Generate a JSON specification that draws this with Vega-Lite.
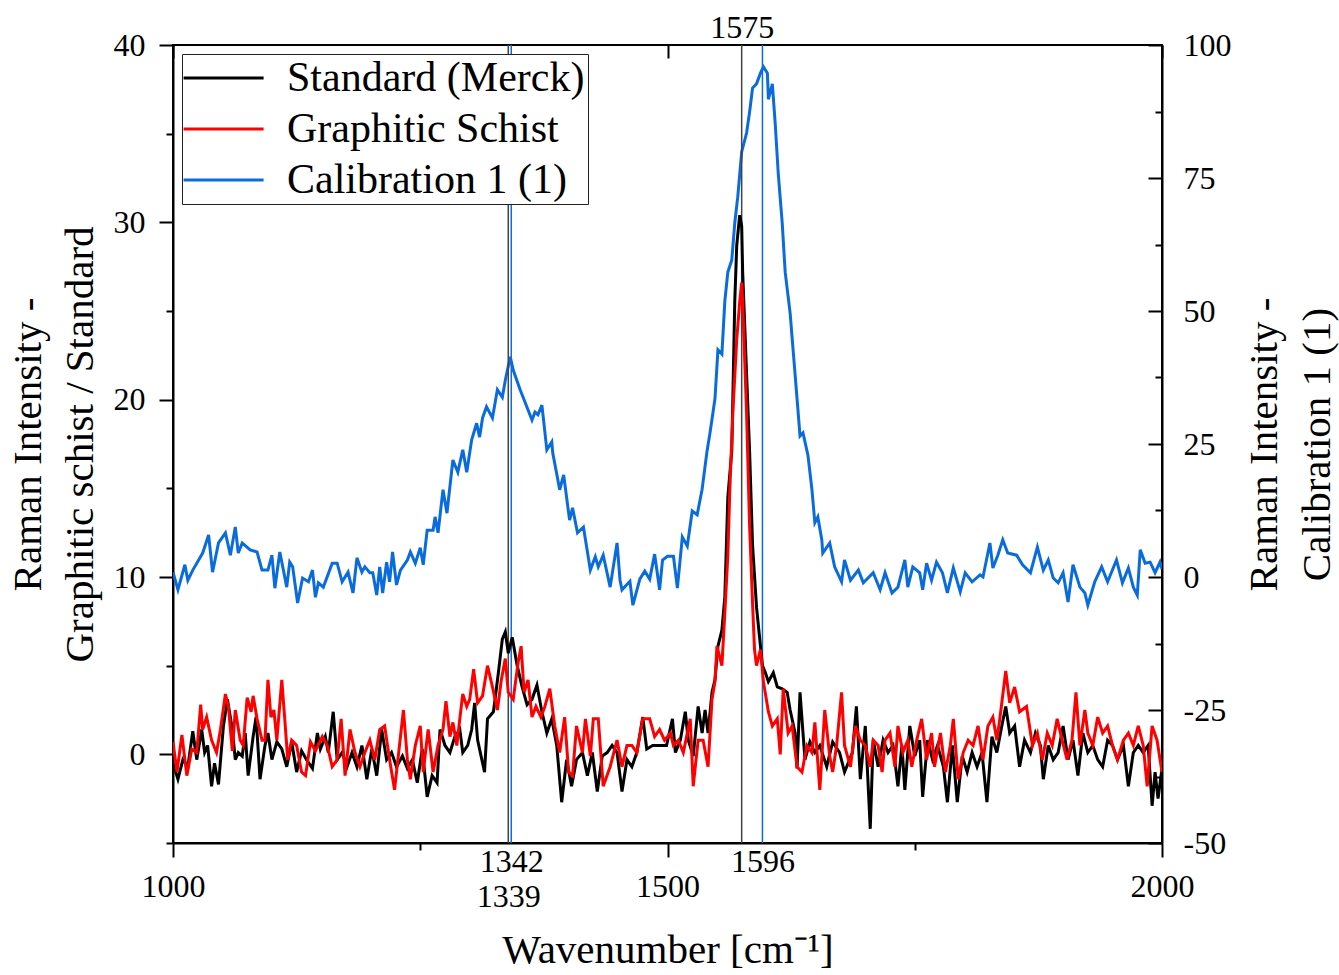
{
  "$schema": "https://vega.github.io/schema/vega-lite/v6.json",
  "autosize": {"type": "none"},
  "width": 989,
  "height": 798,
  "padding": {"left": 173, "top": 45, "right": 177, "bottom": 132},
  "background": "white",
  "config": {
    "font": "Liberation Serif",
    "view": {"stroke": "black", "strokeWidth": 2},
    "axis": {
      "labelFont": "Liberation Serif", "titleFont": "Liberation Serif",
      "labelFontSize": 32, "titleFontSize": 41, "titleFontWeight": "normal",
      "labelColor": "black", "titleColor": "black",
      "domainColor": "black", "domainWidth": 2, "tickColor": "black", "tickWidth": 2,
      "grid": false, "labelOverlap": false, "labelFlush": false, "labelBound": false
    }
  },
  "datasets": {
    "standard": [
      {"w":1000,"i":-0.5},{"w":1005,"i":-1.4},{"w":1010,"i":-0.3},{"w":1015,"i":-0.7},{"w":1020,"i":1.3},{"w":1024,"i":-0.3},{"w":1029,"i":1.4},{"w":1032,"i":0.1},{"w":1035,"i":0.5},{"w":1039,"i":-1.8},{"w":1042,"i":-0.5},{"w":1046,"i":-1.7},{"w":1051,"i":1.6},{"w":1055,"i":3.1},{"w":1060,"i":1.4},{"w":1063,"i":-0.3},{"w":1066,"i":0.1},{"w":1070,"i":-0.1},{"w":1073,"i":1.2},{"w":1076,"i":-1.2},{"w":1081,"i":1.0},{"w":1084,"i":2.1},{"w":1088,"i":-1.4},{"w":1093,"i":0.5},{"w":1096,"i":1.2},{"w":1100,"i":-0.3},{"w":1105,"i":0.7},{"w":1110,"i":0.3},{"w":1115,"i":-0.7},{"w":1120,"i":0.7},{"w":1125,"i":-1.0},{"w":1130,"i":0.2},{"w":1135,"i":-0.3},{"w":1141,"i":-0.8},{"w":1146,"i":1.2},{"w":1149,"i":0.3},{"w":1154,"i":1.0},{"w":1157,"i":0.1},{"w":1162,"i":2.4},{"w":1166,"i":-0.3},{"w":1171,"i":0.1},{"w":1176,"i":-0.7},{"w":1181,"i":0.1},{"w":1186,"i":-0.7},{"w":1191,"i":0.5},{"w":1196,"i":-1.4},{"w":1201,"i":0.3},{"w":1206,"i":-1.2},{"w":1211,"i":1.4},{"w":1216,"i":-0.3},{"w":1221,"i":0.1},{"w":1226,"i":-0.7},{"w":1232,"i":-0.1},{"w":1237,"i":-0.8},{"w":1242,"i":-0.3},{"w":1247,"i":-1.6},{"w":1252,"i":0.3},{"w":1257,"i":-2.4},{"w":1262,"i":-1.2},{"w":1267,"i":-1.6},{"w":1270,"i":1.4},{"w":1275,"i":0.5},{"w":1280,"i":0.1},{"w":1285,"i":1.0},{"w":1290,"i":1.4},{"w":1293,"i":0.1},{"w":1298,"i":0.5},{"w":1302,"i":1.4},{"w":1305,"i":2.9},{"w":1308,"i":0.8},{"w":1315,"i":-1.0},{"w":1318,"i":2.0},{"w":1324,"i":2.4},{"w":1329,"i":4.6},{"w":1333,"i":6.5},{"w":1336,"i":6.9},{"w":1339,"i":5.7},{"w":1343,"i":6.6},{"w":1348,"i":5.0},{"w":1353,"i":3.8},{"w":1358,"i":2.8},{"w":1363,"i":3.1},{"w":1368,"i":3.9},{"w":1373,"i":2.4},{"w":1378,"i":1.2},{"w":1383,"i":2.0},{"w":1388,"i":0.5},{"w":1393,"i":-2.7},{"w":1398,"i":-0.3},{"w":1403,"i":-1.8},{"w":1408,"i":-0.3},{"w":1414,"i":0.1},{"w":1419,"i":-1.2},{"w":1424,"i":0.1},{"w":1429,"i":-2.1},{"w":1434,"i":-0.1},{"w":1439,"i":0.1},{"w":1444,"i":0.5},{"w":1449,"i":0.1},{"w":1454,"i":-2.1},{"w":1459,"i":-0.3},{"w":1464,"i":-0.7},{"w":1469,"i":0.1},{"w":1475,"i":2.1},{"w":1479,"i":0.3},{"w":1485,"i":0.5},{"w":1492,"i":0.5},{"w":1499,"i":0.5},{"w":1505,"i":2.0},{"w":1508,"i":0.1},{"w":1513,"i":0.8},{"w":1518,"i":2.4},{"w":1521,"i":0.8},{"w":1526,"i":-0.1},{"w":1531,"i":2.7},{"w":1535,"i":1.2},{"w":1538,"i":2.5},{"w":1541,"i":1.2},{"w":1545,"i":3.5},{"w":1548,"i":4.2},{"w":1551,"i":6.1},{"w":1555,"i":7.0},{"w":1558,"i":8.9},{"w":1561,"i":14.5},{"w":1565,"i":17.1},{"w":1568,"i":25.5},{"w":1570,"i":28.7},{"w":1573,"i":30.4},{"w":1575,"i":29.8},{"w":1576,"i":27.2},{"w":1580,"i":21.4},{"w":1583,"i":17.1},{"w":1586,"i":11.8},{"w":1590,"i":8.3},{"w":1596,"i":5.0},{"w":1599,"i":4.6},{"w":1602,"i":4.1},{"w":1607,"i":4.6},{"w":1611,"i":3.8},{"w":1616,"i":3.7},{"w":1621,"i":3.5},{"w":1624,"i":2.5},{"w":1629,"i":1.2},{"w":1631,"i":-0.8},{"w":1634,"i":3.5},{"w":1639,"i":-0.3},{"w":1644,"i":0.7},{"w":1649,"i":0.1},{"w":1654,"i":0.5},{"w":1661,"i":-0.7},{"w":1667,"i":0.7},{"w":1674,"i":0.1},{"w":1679,"i":-1.0},{"w":1687,"i":0.1},{"w":1691,"i":2.7},{"w":1695,"i":-1.4},{"w":1700,"i":1.6},{"w":1705,"i":-4.2},{"w":1708,"i":0.8},{"w":1713,"i":-0.7},{"w":1718,"i":0.8},{"w":1723,"i":0.1},{"w":1728,"i":0.5},{"w":1733,"i":-1.8},{"w":1737,"i":0.5},{"w":1740,"i":-2.0},{"w":1745,"i":1.6},{"w":1750,"i":-0.1},{"w":1755,"i":0.8},{"w":1758,"i":-2.4},{"w":1763,"i":0.8},{"w":1768,"i":-0.3},{"w":1773,"i":0.5},{"w":1779,"i":-0.7},{"w":1783,"i":-2.7},{"w":1788,"i":0.5},{"w":1793,"i":-2.7},{"w":1798,"i":-0.1},{"w":1803,"i":-1.0},{"w":1808,"i":0.1},{"w":1813,"i":-0.7},{"w":1818,"i":0.1},{"w":1823,"i":-2.7},{"w":1828,"i":1.0},{"w":1833,"i":0.1},{"w":1838,"i":1.6},{"w":1842,"i":2.7},{"w":1846,"i":1.2},{"w":1851,"i":1.6},{"w":1856,"i":-0.7},{"w":1861,"i":0.8},{"w":1867,"i":0.1},{"w":1872,"i":1.2},{"w":1877,"i":0.5},{"w":1880,"i":-1.4},{"w":1885,"i":0.5},{"w":1890,"i":-0.3},{"w":1895,"i":0.1},{"w":1900,"i":1.6},{"w":1905,"i":-0.3},{"w":1910,"i":0.8},{"w":1915,"i":-1.2},{"w":1920,"i":1.2},{"w":1925,"i":0.1},{"w":1930,"i":0.5},{"w":1935,"i":-0.3},{"w":1940,"i":-0.7},{"w":1945,"i":0.8},{"w":1950,"i":0.5},{"w":1955,"i":-0.3},{"w":1961,"i":0.5},{"w":1966,"i":-1.8},{"w":1971,"i":0.1},{"w":1976,"i":0.5},{"w":1981,"i":0.1},{"w":1986,"i":0.5},{"w":1990,"i":-2.9},{"w":1993,"i":-1.0},{"w":1996,"i":-2.5},{"w":2000,"i":-0.8}
    ],
    "schist": [
      {"w":1000,"i":0.7},{"w":1004,"i":-1.0},{"w":1009,"i":1.1},{"w":1014,"i":-1.2},{"w":1019,"i":0.3},{"w":1024,"i":0.1},{"w":1028,"i":2.8},{"w":1030,"i":1.4},{"w":1034,"i":2.1},{"w":1039,"i":0.8},{"w":1044,"i":0.1},{"w":1048,"i":1.4},{"w":1053,"i":3.4},{"w":1056,"i":2.7},{"w":1060,"i":0.2},{"w":1063,"i":2.5},{"w":1068,"i":0.8},{"w":1071,"i":0.5},{"w":1075,"i":3.2},{"w":1079,"i":2.4},{"w":1081,"i":3.3},{"w":1085,"i":2.0},{"w":1090,"i":0.8},{"w":1093,"i":0.8},{"w":1096,"i":4.2},{"w":1099,"i":2.1},{"w":1102,"i":2.5},{"w":1105,"i":0.8},{"w":1110,"i":4.2},{"w":1113,"i":2.0},{"w":1116,"i":-0.3},{"w":1120,"i":0.8},{"w":1125,"i":0.5},{"w":1130,"i":-1.0},{"w":1134,"i":-1.2},{"w":1139,"i":0.7},{"w":1144,"i":0.2},{"w":1151,"i":1.0},{"w":1156,"i":0.5},{"w":1161,"i":-0.7},{"w":1166,"i":-0.3},{"w":1170,"i":2.0},{"w":1174,"i":-1.2},{"w":1179,"i":1.4},{"w":1184,"i":0.1},{"w":1189,"i":-0.7},{"w":1194,"i":0.1},{"w":1199,"i":0.8},{"w":1204,"i":-0.3},{"w":1209,"i":1.4},{"w":1214,"i":1.6},{"w":1219,"i":-0.3},{"w":1224,"i":-2.0},{"w":1229,"i":0.5},{"w":1233,"i":2.5},{"w":1237,"i":-0.3},{"w":1240,"i":-1.4},{"w":1245,"i":0.5},{"w":1250,"i":1.6},{"w":1253,"i":-1.0},{"w":1258,"i":1.4},{"w":1263,"i":-1.0},{"w":1268,"i":0.5},{"w":1273,"i":1.4},{"w":1276,"i":3.0},{"w":1280,"i":1.0},{"w":1283,"i":1.8},{"w":1287,"i":0.5},{"w":1290,"i":2.0},{"w":1293,"i":3.4},{"w":1297,"i":2.7},{"w":1300,"i":3.1},{"w":1304,"i":4.8},{"w":1308,"i":2.9},{"w":1313,"i":3.3},{"w":1318,"i":5.0},{"w":1323,"i":3.8},{"w":1328,"i":2.5},{"w":1332,"i":4.2},{"w":1336,"i":5.4},{"w":1339,"i":3.5},{"w":1344,"i":3.1},{"w":1349,"i":5.2},{"w":1352,"i":6.1},{"w":1355,"i":3.5},{"w":1359,"i":4.2},{"w":1363,"i":2.1},{"w":1367,"i":2.7},{"w":1372,"i":2.1},{"w":1376,"i":2.7},{"w":1381,"i":3.7},{"w":1386,"i":1.6},{"w":1391,"i":0.1},{"w":1396,"i":2.1},{"w":1400,"i":-1.0},{"w":1404,"i":-1.2},{"w":1408,"i":1.6},{"w":1414,"i":0.1},{"w":1417,"i":2.0},{"w":1422,"i":-0.1},{"w":1425,"i":2.0},{"w":1430,"i":2.0},{"w":1435,"i":-1.8},{"w":1442,"i":-0.7},{"w":1449,"i":0.8},{"w":1454,"i":-0.7},{"w":1459,"i":0.5},{"w":1464,"i":0.5},{"w":1469,"i":0.1},{"w":1475,"i":2.0},{"w":1482,"i":2.0},{"w":1487,"i":1.0},{"w":1492,"i":1.4},{"w":1497,"i":0.8},{"w":1503,"i":1.2},{"w":1506,"i":0.5},{"w":1511,"i":0.8},{"w":1516,"i":0.1},{"w":1523,"i":2.0},{"w":1526,"i":-1.8},{"w":1531,"i":0.8},{"w":1536,"i":0.8},{"w":1541,"i":-0.7},{"w":1545,"i":3.1},{"w":1548,"i":4.1},{"w":1550,"i":6.1},{"w":1555,"i":5.0},{"w":1558,"i":8.0},{"w":1561,"i":11.2},{"w":1563,"i":14.9},{"w":1566,"i":19.2},{"w":1570,"i":23.4},{"w":1573,"i":25.5},{"w":1575,"i":26.6},{"w":1576,"i":25.5},{"w":1580,"i":19.2},{"w":1583,"i":12.9},{"w":1586,"i":8.5},{"w":1588,"i":5.9},{"w":1590,"i":5.0},{"w":1594,"i":5.9},{"w":1597,"i":4.1},{"w":1602,"i":2.4},{"w":1606,"i":1.6},{"w":1611,"i":2.0},{"w":1614,"i":0.0},{"w":1617,"i":3.7},{"w":1622,"i":1.2},{"w":1626,"i":1.6},{"w":1631,"i":-0.7},{"w":1636,"i":-1.0},{"w":1641,"i":0.5},{"w":1646,"i":0.1},{"w":1649,"i":1.8},{"w":1654,"i":-2.0},{"w":1659,"i":2.5},{"w":1664,"i":-0.1},{"w":1667,"i":-1.0},{"w":1671,"i":0.5},{"w":1676,"i":3.5},{"w":1679,"i":0.5},{"w":1685,"i":-0.7},{"w":1690,"i":1.6},{"w":1695,"i":0.8},{"w":1700,"i":0.5},{"w":1705,"i":-0.7},{"w":1708,"i":0.8},{"w":1713,"i":0.5},{"w":1717,"i":-1.0},{"w":1720,"i":0.8},{"w":1725,"i":1.2},{"w":1730,"i":-0.7},{"w":1733,"i":1.6},{"w":1738,"i":0.1},{"w":1743,"i":0.8},{"w":1747,"i":-0.7},{"w":1752,"i":0.8},{"w":1757,"i":2.0},{"w":1762,"i":-0.3},{"w":1767,"i":1.2},{"w":1770,"i":-0.7},{"w":1776,"i":1.2},{"w":1781,"i":-1.0},{"w":1786,"i":0.5},{"w":1789,"i":2.0},{"w":1794,"i":-1.4},{"w":1799,"i":0.1},{"w":1804,"i":0.8},{"w":1809,"i":0.5},{"w":1814,"i":1.6},{"w":1819,"i":-0.3},{"w":1824,"i":1.6},{"w":1829,"i":2.1},{"w":1833,"i":0.8},{"w":1836,"i":2.0},{"w":1842,"i":4.7},{"w":1846,"i":2.9},{"w":1851,"i":3.8},{"w":1856,"i":2.4},{"w":1863,"i":2.7},{"w":1869,"i":0.5},{"w":1874,"i":1.2},{"w":1879,"i":-0.3},{"w":1884,"i":1.2},{"w":1889,"i":0.5},{"w":1894,"i":2.0},{"w":1899,"i":0.8},{"w":1904,"i":-0.3},{"w":1909,"i":0.8},{"w":1913,"i":3.5},{"w":1917,"i":0.5},{"w":1922,"i":2.5},{"w":1925,"i":1.2},{"w":1930,"i":0.5},{"w":1935,"i":2.1},{"w":1940,"i":1.2},{"w":1945,"i":1.6},{"w":1950,"i":0.5},{"w":1955,"i":-0.3},{"w":1961,"i":0.8},{"w":1966,"i":1.2},{"w":1971,"i":0.5},{"w":1976,"i":1.6},{"w":1981,"i":0.5},{"w":1985,"i":-1.8},{"w":1990,"i":1.6},{"w":1995,"i":0.8},{"w":2000,"i":-1.0}
    ],
    "calibration": [
      {"w":1000,"i":0.9},{"w":1005,"i":-2.4},{"w":1012,"i":2.3},{"w":1015,"i":-0.6},{"w":1020,"i":1.3},{"w":1030,"i":4.5},{"w":1036,"i":7.9},{"w":1040,"i":0.9},{"w":1046,"i":6.4},{"w":1053,"i":8.3},{"w":1058,"i":4.1},{"w":1063,"i":9.4},{"w":1066,"i":4.5},{"w":1070,"i":6.4},{"w":1078,"i":5.1},{"w":1085,"i":4.7},{"w":1090,"i":1.3},{"w":1096,"i":1.3},{"w":1100,"i":4.1},{"w":1103,"i":-2.1},{"w":1108,"i":4.7},{"w":1115,"i":-1.9},{"w":1118,"i":2.8},{"w":1121,"i":1.9},{"w":1126,"i":-4.9},{"w":1131,"i":-0.2},{"w":1137,"i":-0.9},{"w":1141,"i":1.3},{"w":1144,"i":-3.8},{"w":1147,"i":-1.1},{"w":1152,"i":-1.9},{"w":1161,"i":2.6},{"w":1166,"i":2.6},{"w":1171,"i":-0.9},{"w":1177,"i":0.9},{"w":1182,"i":-3.0},{"w":1186,"i":3.6},{"w":1191,"i":0.9},{"w":1194,"i":1.9},{"w":1199,"i":0.8},{"w":1202,"i":0.8},{"w":1206,"i":-3.4},{"w":1209,"i":1.9},{"w":1212,"i":-3.0},{"w":1216,"i":2.8},{"w":1219,"i":-0.9},{"w":1222,"i":4.7},{"w":1226,"i":-1.5},{"w":1230,"i":1.3},{"w":1237,"i":3.2},{"w":1240,"i":4.7},{"w":1245,"i":2.6},{"w":1250,"i":5.5},{"w":1253,"i":2.3},{"w":1257,"i":8.8},{"w":1263,"i":8.8},{"w":1265,"i":11.3},{"w":1268,"i":8.3},{"w":1273,"i":16.4},{"w":1277,"i":12.0},{"w":1283,"i":22.0},{"w":1288,"i":19.7},{"w":1293,"i":23.9},{"w":1297,"i":19.7},{"w":1302,"i":25.8},{"w":1307,"i":28.9},{"w":1310,"i":26.3},{"w":1313,"i":29.9},{"w":1317,"i":32.0},{"w":1323,"i":29.9},{"w":1328,"i":35.2},{"w":1333,"i":33.8},{"w":1336,"i":37.0},{"w":1341,"i":41.4},{"w":1344,"i":38.9},{"w":1351,"i":35.2},{"w":1354,"i":33.8},{"w":1363,"i":29.5},{"w":1366,"i":31.0},{"w":1369,"i":30.5},{"w":1373,"i":32.3},{"w":1378,"i":23.9},{"w":1383,"i":25.4},{"w":1384,"i":23.3},{"w":1391,"i":16.4},{"w":1395,"i":19.2},{"w":1401,"i":10.7},{"w":1404,"i":13.0},{"w":1409,"i":8.3},{"w":1415,"i":9.4},{"w":1422,"i":1.3},{"w":1427,"i":3.8},{"w":1430,"i":1.9},{"w":1435,"i":4.1},{"w":1442,"i":-1.9},{"w":1449,"i":6.4},{"w":1452,"i":-0.6},{"w":1454,"i":-2.4},{"w":1462,"i":-0.8},{"w":1465,"i":-5.3},{"w":1472,"i":-0.4},{"w":1477,"i":1.1},{"w":1482,"i":-0.4},{"w":1487,"i":4.3},{"w":1492,"i":-2.4},{"w":1495,"i":3.2},{"w":1500,"i":3.9},{"w":1506,"i":3.9},{"w":1510,"i":-2.1},{"w":1515,"i":7.5},{"w":1520,"i":5.8},{"w":1525,"i":12.4},{"w":1530,"i":11.7},{"w":1535,"i":16.5},{"w":1540,"i":23.7},{"w":1543,"i":27.1},{"w":1548,"i":33.5},{"w":1551,"i":42.7},{"w":1555,"i":41.9},{"w":1558,"i":51.9},{"w":1561,"i":57.3},{"w":1565,"i":59.6},{"w":1568,"i":66.5},{"w":1571,"i":71.4},{"w":1575,"i":79.9},{"w":1580,"i":83.5},{"w":1583,"i":87.4},{"w":1586,"i":91.9},{"w":1590,"i":92.7},{"w":1594,"i":94.7},{"w":1597,"i":95.9},{"w":1601,"i":94.7},{"w":1602,"i":89.8},{"w":1606,"i":92.7},{"w":1609,"i":85.0},{"w":1612,"i":75.8},{"w":1616,"i":66.5},{"w":1619,"i":57.3},{"w":1624,"i":49.6},{"w":1627,"i":42.7},{"w":1631,"i":33.5},{"w":1634,"i":26.5},{"w":1637,"i":27.1},{"w":1642,"i":22.9},{"w":1646,"i":16.5},{"w":1649,"i":10.2},{"w":1652,"i":11.3},{"w":1656,"i":7.0},{"w":1657,"i":4.5},{"w":1664,"i":6.4},{"w":1669,"i":1.9},{"w":1676,"i":-0.9},{"w":1679,"i":3.2},{"w":1685,"i":-0.6},{"w":1693,"i":1.3},{"w":1698,"i":-1.1},{"w":1708,"i":0.8},{"w":1715,"i":-2.4},{"w":1720,"i":0.8},{"w":1727,"i":-3.0},{"w":1733,"i":-1.9},{"w":1740,"i":3.2},{"w":1743,"i":-1.9},{"w":1748,"i":1.9},{"w":1755,"i":0.8},{"w":1758,"i":-2.4},{"w":1762,"i":2.6},{"w":1767,"i":-0.6},{"w":1772,"i":2.8},{"w":1778,"i":0.8},{"w":1783,"i":-3.0},{"w":1789,"i":1.7},{"w":1796,"i":-2.8},{"w":1801,"i":0.8},{"w":1808,"i":-0.9},{"w":1816,"i":0.4},{"w":1819,"i":0.0},{"w":1826,"i":6.4},{"w":1829,"i":1.7},{"w":1834,"i":4.1},{"w":1839,"i":7.0},{"w":1844,"i":4.5},{"w":1853,"i":4.1},{"w":1859,"i":2.3},{"w":1867,"i":0.8},{"w":1874,"i":5.6},{"w":1880,"i":1.3},{"w":1885,"i":3.2},{"w":1890,"i":-0.2},{"w":1895,"i":-1.1},{"w":1900,"i":0.8},{"w":1905,"i":-4.7},{"w":1910,"i":2.3},{"w":1917,"i":-1.9},{"w":1922,"i":-3.0},{"w":1925,"i":-5.3},{"w":1932,"i":-0.9},{"w":1939,"i":1.9},{"w":1945,"i":-0.9},{"w":1954,"i":3.2},{"w":1960,"i":-1.1},{"w":1966,"i":1.7},{"w":1971,"i":-1.9},{"w":1975,"i":-3.4},{"w":1978,"i":5.1},{"w":1983,"i":2.6},{"w":1988,"i":2.8},{"w":1993,"i":0.8},{"w":1998,"i":2.8},{"w":2000,"i":1.5}
    ],
    "blackLines": [{"w":1339},{"w":1575}],
    "blueLines": [{"w":1342},{"w":1596}]
  },
  "layer": [
    {
      "data": {"name": "calibration"},
      "mark": {"type": "line", "strokeWidth": 3, "clip": true},
      "encoding": {
        "x": {
          "field": "w", "type": "quantitative",
          "scale": {"domain": [1000, 2000], "nice": false, "zero": false},
          "axis": {
            "orient": "top", "title": null, "domain": false,
            "values": [1000, 1500, 1575, 2000],
            "labelExpr": "datum.value == 1575 ? '1575' : ''",
            "tickSize": -13,
            "tickOpacity": {"condition": {"test": "datum.value == 1575", "value": 0}, "value": 1},
            "labelPadding": 14
          }
        },
        "y": {
          "field": "i", "type": "quantitative",
          "scale": {"domain": [-50, 100], "nice": false, "zero": false},
          "axis": {
            "orient": "right",
            "values": [-50, -37.5, -25, -12.5, 0, 12.5, 25, 37.5, 50, 62.5, 75, 87.5, 100],
            "labelExpr": "datum.value % 25 === 0 ? '' + datum.value : ''",
            "tickSize": {"condition": {"test": "datum.value % 25 === 0", "value": -14}, "value": -7},
            "labelPadding": 35,
            "title": ["Raman Intensity -", "Calibration 1 (1)"],
            "titleAngle": 270, "titleBaseline": "bottom", "titleLineHeight": 53, "titlePadding": 1
          }
        },
        "color": {
          "datum": "Calibration 1 (1)",
          "scale": {"domain": ["Standard (Merck)", "Graphitic Schist", "Calibration 1 (1)"], "range": ["#000000", "#ff0000", "#0a6cdc"]},
          "legend": {
            "orient": "top-left", "offset": 9, "title": null,
            "strokeColor": "#222222", "fillColor": "white", "padding": 3,
            "symbolType": "M-1.4,0H3.6", "symbolSize": 1024, "symbolStrokeWidth": 3,
            "labelFont": "Liberation Serif", "labelFontSize": 42, "labelColor": "black",
            "labelOffset": 60, "labelLimit": 0, "rowPadding": 9
          }
        }
      }
    },
    {
      "layer": [
        {
          "data": {"name": "blackLines"},
          "mark": {"type": "rule", "color": "#444444", "strokeWidth": 1.5},
          "encoding": {"x": {"field": "w", "type": "quantitative"}}
        },
        {
          "data": {"name": "blueLines"},
          "mark": {"type": "rule", "color": "#0a6cdc", "strokeWidth": 1.5},
          "encoding": {"x": {"field": "w", "type": "quantitative"}}
        },
        {
          "data": {"name": "standard"},
          "mark": {"type": "line", "strokeWidth": 3, "clip": true},
          "encoding": {
            "x": {"field": "w", "type": "quantitative"},
            "y": {"field": "i", "type": "quantitative"},
            "color": {"datum": "Standard (Merck)"}
          }
        },
        {
          "data": {"name": "schist"},
          "mark": {"type": "line", "strokeWidth": 3, "clip": true},
          "encoding": {
            "x": {"field": "w", "type": "quantitative"},
            "y": {"field": "i", "type": "quantitative"},
            "color": {"datum": "Graphitic Schist"}
          }
        }
      ],
      "encoding": {
        "x": {
          "type": "quantitative",
          "scale": {"domain": [1000, 2000], "nice": false, "zero": false},
          "axis": {
            "orient": "bottom",
            "title": "Wavenumber [cm⁻¹]",
            "titlePadding": 18,
            "values": [1000, 1250, 1339, 1342, 1500, 1596, 1750, 2000],
            "labelExpr": "(datum.value == 1250 || datum.value == 1750) ? '' : '' + datum.value",
            "tickSize": {"condition": {"test": "datum.value == 1000 || datum.value == 1500 || datum.value == 2000", "value": 14}, "value": 7},
            "tickOpacity": {"condition": {"test": "datum.value == 1339 || datum.value == 1342 || datum.value == 1596", "value": 0}, "value": 1},
            "labelPadding": {"condition": [
              {"test": "datum.value == 1339", "value": 31},
              {"test": "datum.value == 1342 || datum.value == 1596", "value": -4}
            ], "value": 14}
          }
        },
        "y": {
          "type": "quantitative",
          "scale": {"domain": [-5, 40], "nice": false, "zero": false},
          "axis": {
            "orient": "left",
            "values": [-5, 0, 5, 10, 15, 20, 25, 30, 35, 40],
            "labelExpr": "datum.value % 10 === 0 ? '' + datum.value : ''",
            "tickSize": {"condition": {"test": "datum.value % 10 === 0", "value": 14}, "value": 7},
            "labelPadding": 14,
            "title": ["Raman Intensity -", "Graphitic schist / Standard"],
            "titleLineHeight": 52, "titlePadding": 12
          }
        }
      }
    }
  ],
  "resolve": {"scale": {"x": "independent", "y": "independent"}}
}
